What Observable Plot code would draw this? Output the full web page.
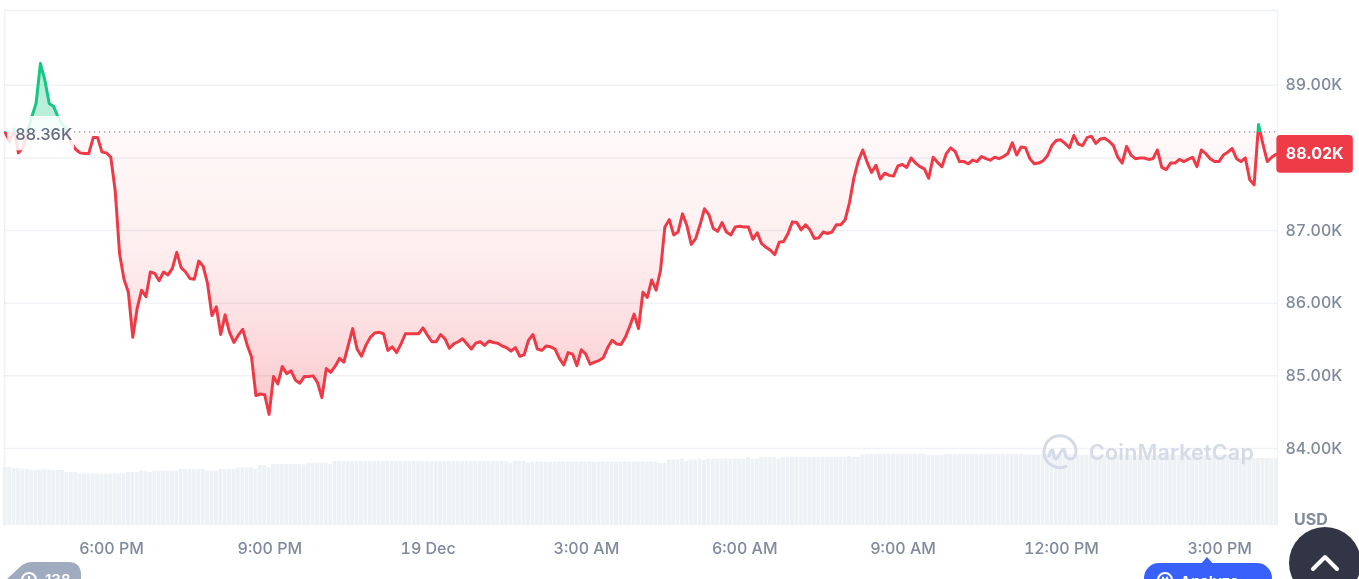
<!DOCTYPE html>
<html>
<head>
<meta charset="utf-8">
<script src="https://cdn.jsdelivr.net/npm/d3@7"></script>
<script src="https://cdn.jsdelivr.net/npm/@observablehq/plot@0.6"></script>
<style>
html,body{margin:0;padding:0;background:#fff;overflow:hidden;width:1359px;height:579px;font-family:Inter,sans-serif}
#chart{position:absolute;left:0;top:0}
.o{position:absolute;white-space:nowrap}
</style>
</head>
<body>
<div id="chart"></div>
<div class="o" style="left:1294px;top:509px;font:700 16px Inter;color:#808a9d">USD</div>
<div class="o" style="left:1089px;top:439px;font:600 21.5px Inter;color:#d5dbe6;letter-spacing:.2px">CoinMarketCap</div>
<svg class="o" style="left:1042px;top:434px" width="36" height="36" viewBox="0 0 36 36" fill="none" stroke="#d5dbe6" stroke-width="3" stroke-linecap="round" stroke-linejoin="round"><path d="M24 32.5A16 16 0 1 1 34 18c0 4-2.500 7-6 7-4 0-5-4-5.500-8-.3-2-1.500-2.500-2.500-.5L15 24c-1 1.500-2.500 1-2.800-.8L11 17c-.3-1.500-1.700-1.500-2.300 0L7 22"/></svg>
<svg class="o" style="left:0;top:555px" width="90" height="24"><path d="M7 24 21 11Q26 7 32 7H68Q81 7 81 20V24Z" fill="#a1abc0"/></svg>
<div class="o" style="left:45px;top:571px;color:#fff;font:600 15px Inter;line-height:18px">138</div>
<svg class="o" style="left:20px;top:571px" width="18" height="18" viewBox="0 0 18 18" fill="none" stroke="#fff" stroke-width="2"><circle cx="9" cy="9" r="7"/><path d="M9 5v5"/></svg>
<svg class="o" style="left:1200px;top:557px" width="14" height="8"><path d="M7 0 14 8H0Z" fill="#3861fb"/></svg>
<div class="o" style="left:1144px;top:563px;width:128px;height:34px;border-radius:15px;background:#3861fb;color:#fff;font:600 15px Inter;line-height:38px;text-indent:36px">Analyze ›</div>
<svg class="o" style="left:1156px;top:571px" width="18" height="18" viewBox="0 0 18 18" fill="none" stroke="#fff" stroke-width="2"><circle cx="9" cy="9" r="7"/><path d="M5 11l2-4 2 3 2-3 2 4"/></svg>
<div class="o" style="left:1289px;top:527px;width:72px;height:72px;border-radius:50%;background:#323546"></div>
<svg class="o" style="left:1310px;top:552px" width="30" height="20" fill="none" stroke="#fff" stroke-width="4" stroke-linecap="round" stroke-linejoin="round"><path d="M3 17 15 5 27 17"/></svg>
<script>
const startTime = Date.UTC(2024, 11, 18, 15, 59, 12);
const stepMs = 5 * 60 * 1000;
const baselinePrice = 88.36;
const lastPrice = 88.02;
const gridTicks = [84, 85, 86, 87, 88, 89];
const labelTicks = [84, 85, 86, 87, 89];
const timeTicks = [
  Date.UTC(2024,11,18,18), Date.UTC(2024,11,18,21), Date.UTC(2024,11,19,0), Date.UTC(2024,11,19,3),
  Date.UTC(2024,11,19,6), Date.UTC(2024,11,19,9), Date.UTC(2024,11,19,12), Date.UTC(2024,11,19,15)];
const timeLabels = ["6:00 PM","9:00 PM","19 Dec","3:00 AM","6:00 AM","9:00 AM","12:00 PM","3:00 PM"];

const prices = [
88.35,88.23,88.40,88.07,88.14,88.34,88.56,88.75,89.30,89.07,88.75,88.71,88.56,88.46,88.40,88.21,88.12,88.07,88.06,88.06,
88.28,88.28,88.08,88.07,88.01,87.55,86.68,86.33,86.15,85.53,85.93,86.18,86.09,86.43,86.41,86.31,86.43,86.39,86.48,86.70,
86.49,86.43,86.34,86.33,86.58,86.51,86.27,85.83,85.95,85.57,85.84,85.60,85.46,85.56,85.64,85.43,85.26,84.73,84.75,84.74,
84.47,84.99,84.89,85.13,85.03,85.07,84.94,84.90,84.99,84.99,85.00,84.91,84.70,85.10,85.05,85.13,85.24,85.19,85.42,85.65,
85.37,85.27,85.42,85.53,85.59,85.60,85.58,85.35,85.40,85.32,85.44,85.58,85.58,85.58,85.58,85.66,85.56,85.47,85.47,85.57,
85.51,85.38,85.44,85.47,85.51,85.44,85.37,85.45,85.47,85.42,85.48,85.46,85.45,85.41,85.39,85.34,85.39,85.27,85.29,85.49,
85.57,85.37,85.35,85.41,85.40,85.37,85.24,85.15,85.32,85.30,85.14,85.36,85.30,85.16,85.19,85.21,85.25,85.39,85.49,85.44,
85.43,85.53,85.68,85.85,85.65,86.15,86.08,86.32,86.18,86.45,87.05,87.15,86.94,86.98,87.23,87.07,86.81,86.89,87.08,87.30,
87.22,87.03,86.99,87.11,86.98,86.94,87.05,87.06,87.05,87.05,86.88,86.97,86.82,86.77,86.73,86.67,86.84,86.85,86.96,87.12,
87.11,87.01,87.08,87.01,86.89,86.90,86.98,86.96,86.98,87.08,87.08,87.15,87.39,87.73,87.96,88.11,87.94,87.80,87.90,87.71,
87.79,87.76,87.75,87.89,87.91,87.87,88.00,87.93,87.88,87.85,87.72,88.01,87.94,87.88,88.06,88.14,88.09,87.95,87.95,87.92,
87.97,87.95,88.02,87.99,87.97,88.01,87.99,88.02,88.06,88.21,88.04,88.15,88.14,87.99,87.92,87.93,87.96,88.03,88.17,88.24,
88.25,88.20,88.14,88.31,88.19,88.17,88.28,88.30,88.20,88.26,88.27,88.23,88.17,88.01,87.93,88.16,88.04,87.99,88.00,88.00,
87.98,87.99,88.11,87.87,87.84,87.93,87.93,87.98,87.95,87.98,88.01,87.88,88.11,88.06,87.99,87.95,87.95,88.04,88.08,88.13,
87.99,87.95,88.00,87.70,87.63,88.46,88.19,87.95,88.01,88.05];

const volumes = [
58,58,57,57,56.5,56,55,55,55.5,56,55.5,55,55,55,53,53,53,
51.5,51.5,51.5,51.5,51.5,51.5,51.5,51.5,51.5,51.5,51.5,53,53,53,54.5,54.5,53,
54.5,54.5,54.5,54.5,54.5,54.5,56,56,56,56,56,56,54.5,54.5,54.5,56,56,56,56,57.5,57.5,57.5,57.5,56,60,60,58,
61,61,61,61,61,61,61,60.5,62.5,62.5,62.5,62.5,62.5,61,
64,64,64,64,64,64,64,64,64,64,64,64,64,64,64,64,64,64,64,64,
64,64,64,64,64,64,64,64,64,64,64,64,64,64,64,64,64,64,64,64,
62,64,64,64,62.5,
63.5,63.5,63.5,63.5,63.5,63.5,63.5,63.5,63.5,63.5,63.5,63.5,63.5,63.5,63.5,
63.5,63.5,63.5,63.5,63.5,63.5,63.5,63.5,63.5,63.5,63.5,63.5,63.5,63.5,
62,62,65.5,65.5,65.5,66.5,64,65.5,65.5,66.5,65,
66.5,66.5,66.5,66.5,66.5,66.5,66.5,66.5,66.5,68,66.5,66.5,68,68,68,68,66.5,
68,68,68,68,68,68,68,68,68,68,68,68,68,68,68,69,68,68,71,71,71,71,
71.5,71.5,71.5,71.5,71.5,71.5,71.5,71.5,71.5,71.5,71.5,70,70,70,70,
71,71,71,71,71,71,71,71,71,71,71,71,71,71,71,71,71,71,70.5,70.5,70.5,70.5,
71,71,71,71,71,71,71,71,
70,70,70.5,70,70,70,69.5,70,70,70,70.5,70,70,70,70,69.5,70,70,70,70.5,70,70,70,70,70,69.5,70,70,70,70,70.5,70,70,70,70,70,69.5,
67,67,67,67,67,67,67,67,67];

const series = prices.map((price, i) => ({time: new Date(startTime + i * stepMs), price}));
const volumeBase = 82.94;
const volumeToY = v => volumeBase + v / 72.64;
const bars = volumes.map((v, i) => ({
  t1: new Date(startTime + i * stepMs - 2.25 * 60000),
  t2: new Date(startTime + i * stepMs + 2.25 * 60000),
  top: volumeToY(v)
}));
const lineMask = [{x1: new Date(Date.UTC(2024,11,18,16,2)), x2: new Date(Date.UTC(2024,11,18,17,18)), y1: 88.10, y2: 88.57}];
const lastBadge = [{x1: new Date(Date.UTC(2024,11,19,16,5)), x2: new Date(Date.UTC(2024,11,19,17,32)), y1: 87.79, y2: 88.31}];

const RED = "#ee3a46", GREEN = "#16c784", GRID = "#f0f2f5", AXIS = "#808a9d";

function gradients(index, {y}) {
  const NS = "http://www.w3.org/2000/svg";
  const defs = document.createElementNS(NS, "defs");
  const baseY = y(baselinePrice), lowY = y(d3.min(prices));
  const add = (id, y1, y2, stops) => {
    const g = document.createElementNS(NS, "linearGradient");
    g.setAttribute("id", id);
    g.setAttribute("gradientUnits", "userSpaceOnUse");
    g.setAttribute("x1", 0); g.setAttribute("x2", 0);
    g.setAttribute("y1", y1); g.setAttribute("y2", y2);
    for (const [o, c, a] of stops) {
      const s = document.createElementNS(NS, "stop");
      s.setAttribute("offset", o);
      s.setAttribute("stop-color", c);
      s.setAttribute("stop-opacity", a);
      g.appendChild(s);
    }
    defs.appendChild(g);
  };
  const top = y(d3.max(prices));
  const split = (baseY - top) / (lowY - top);
  const at = f => split + (1 - split) * f;
  add("priceFill", top, lowY, [[0, GREEN, .3], [split, GREEN, .3], [split, RED, .035], [at(.4), RED, .08], [at(.65), RED, .15], [1, RED, .28]]);
  add("priceLine", top, lowY, [[0, GREEN, 1], [split, GREEN, 1], [split, RED, 1], [1, RED, 1]]);
  return defs;
}

const chart = Plot.plot({
  width: 1359, height: 579,
  marginTop: 10, marginBottom: 54, marginLeft: 4, marginRight: 82,
  style: {fontFamily: "Inter, sans-serif", background: "#fff", overflow: "visible"},
  x: {type: "utc", domain: [new Date(Date.UTC(2024,11,18,15,58,20)), new Date(Date.UTC(2024,11,19,16,5,46))], axis: null},
  y: {domain: [volumeBase, 90.03], axis: null},
  marks: [
    gradients,
    Plot.frame({anchor: "top", stroke: GRID, strokeWidth: 1.5}),
    Plot.frame({anchor: "left", stroke: GRID, strokeWidth: 1.5}),
    Plot.frame({anchor: "right", stroke: GRID, strokeWidth: 1.5}),
    Plot.rect(bars, {x1: "t1", x2: "t2", y1: volumeBase, y2: "top", fill: "#eff2f5"}),
    Plot.areaY(series, {x: "time", y1: baselinePrice, y2: "price", fill: "url(#priceFill)"}),
    Plot.ruleY(gridTicks, {stroke: GRID, strokeWidth: 1.5, mixBlendMode: "multiply"}),
    Plot.ruleY([baselinePrice], {stroke: "#808a9d", strokeWidth: 1.2, strokeDasharray: "1.2 3.8"}),
    Plot.line(series, {x: "time", y: "price", stroke: "url(#priceLine)", strokeWidth: 3, strokeLinejoin: "round"}),
    Plot.rect(lineMask, {x1: "x1", x2: "x2", y1: "y1", y2: "y2", fill: "#fff", fillOpacity: .85, rx: 4}),
    Plot.text([baselinePrice], {x: () => new Date(Date.UTC(2024,11,18,16,43)), y: d => d, dy: 2.5, text: d => d.toFixed(2) + "K", fill: "#616e85", fontSize: 16.5, fontWeight: 500}),
    Plot.axisY(labelTicks, {anchor: "right", tickSize: 0, tickPadding: 8, tickFormat: d => d.toFixed(2) + "K", fill: AXIS, fontSize: 16, fontWeight: 500, label: null}),
    Plot.axisX(timeTicks, {anchor: "bottom", tickSize: 0, tickPadding: 17, tickFormat: (d, i) => timeLabels[i], fill: AXIS, fontSize: 16, fontWeight: 500, label: null}),
    Plot.rect(lastBadge, {x1: "x1", x2: "x2", y1: "y1", y2: "y2", fill: "#ef3b48", rx: 4}),
    Plot.text([lastPrice], {x: () => new Date(Date.UTC(2024,11,19,16,48)), y: () => 88.05, text: d => d.toFixed(2) + "K", fill: "#fff", fontSize: 16, fontWeight: 700})
  ]
});
document.getElementById("chart").appendChild(chart);
</script>
</body>
</html>
